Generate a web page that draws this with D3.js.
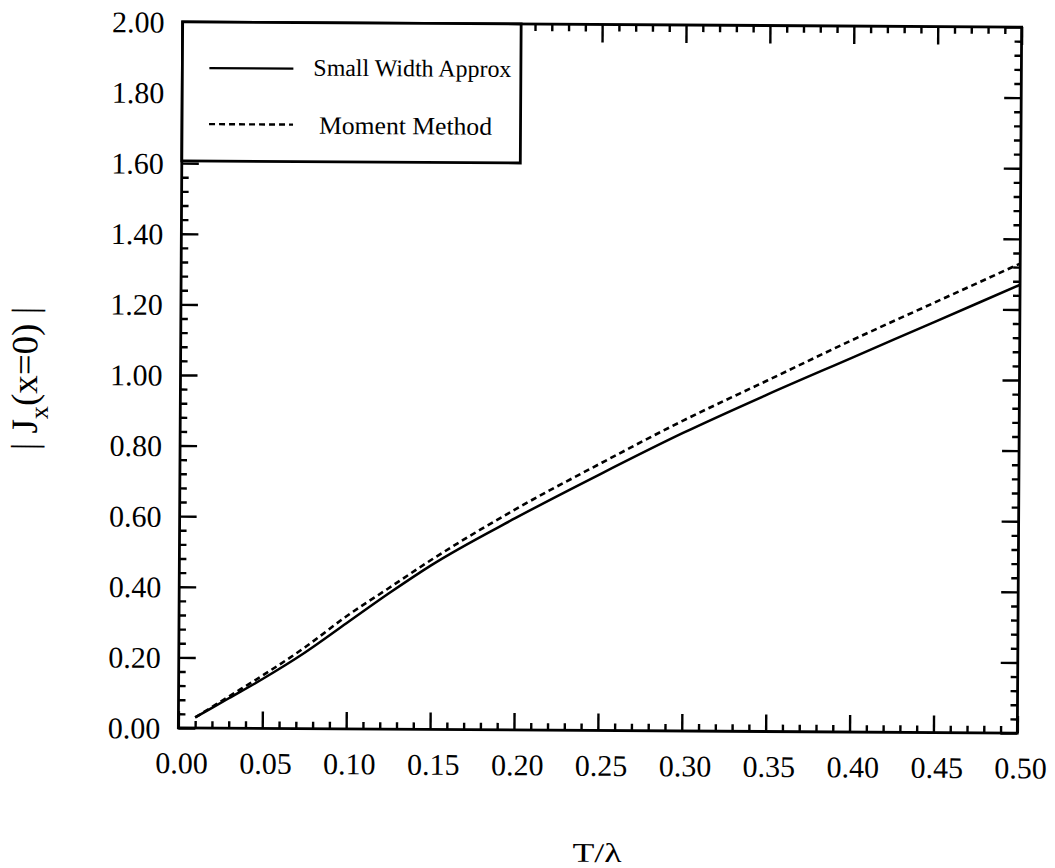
<!DOCTYPE html>
<html>
<head>
<meta charset="utf-8">
<script src="https://cdn.jsdelivr.net/npm/d3@7"></script>
<style>
  body { margin: 0; background: #fff; }
  svg { display: block; }
  text { font-family: "Liberation Serif", "DejaVu Serif", serif; fill: #000; }
</style>
</head>
<body>
<svg id="chart" width="1055" height="868"></svg>
<script>
// Strip width over wavelength
const ratio        = [0.01, 0.03, 0.05, 0.075, 0.10, 0.125, 0.15, 0.20, 0.25, 0.30, 0.35, 0.40, 0.45, 0.50];
// |Jx(x=0)| from the small-width approximation
const smallWidth   = [0.03, 0.085, 0.14, 0.215, 0.30, 0.385, 0.465, 0.60, 0.725, 0.845, 0.955, 1.06, 1.165, 1.27];
// |Jx(x=0)| from the moment method
const momentMethod = [0.03, 0.09, 0.15, 0.23, 0.32, 0.40, 0.48, 0.625, 0.755, 0.88, 0.995, 1.11, 1.22, 1.33];

const seriesNames  = ["Small Width Approx", "Moment Method"];

const xTicks      = [0, 0.05, 0.10, 0.15, 0.20, 0.25, 0.30, 0.35, 0.40, 0.45, 0.50];
const xTickLabels = ["0.00", "0.05", "0.10", "0.15", "0.20", "0.25", "0.30", "0.35", "0.40", "0.45", "0.50"];
const yTicks      = [0, 0.2, 0.4, 0.6, 0.8, 1.0, 1.2, 1.4, 1.6, 1.8, 2.0];
const yTickLabels = ["0.00", "0.20", "0.40", "0.60", "0.80", "1.00", "1.20", "1.40", "1.60", "1.80", "2.00"];

const xTitle = "T/\u03bb";

const frame = { left: 180.5, right: 1019.5, top: 24.5, bottom: 730.5 };

const x = d3.scaleLinear().domain([0, 0.5]).range([frame.left, frame.right]);
const y = d3.scaleLinear().domain([0, 2]).range([frame.bottom, frame.top]);

const xMinor = d3.range(0, 0.5001, 0.01).filter(v => !xTicks.some(t => Math.abs(t - v) < 1e-6));
const yMinor = d3.range(0, 2.0001, 0.04).filter(v => !yTicks.some(t => Math.abs(t - v) < 1e-6));

const svg = d3.select("#chart");
const g = svg.append("g").attr("transform", "rotate(0.35,600,377)");

const MAJOR = 17, MINOR = 7;

function styleAxis(sel) {
  sel.select(".domain").remove();
  sel.selectAll(".tick line").attr("stroke", "#000").attr("stroke-width", 2.4);
}

// bottom axis with labels, ticks pointing inward
g.append("g")
  .attr("transform", `translate(0,${frame.bottom})`)
  .call(d3.axisBottom(x).tickValues(xTicks).tickFormat((d, i) => xTickLabels[i])
        .tickSizeInner(-MAJOR).tickSizeOuter(0).tickPadding(24))
  .call(styleAxis)
  .call(s => s.selectAll("text").attr("font-size", 30).attr("dx", 3)
                .style("font-family", "'Liberation Serif', serif"));
g.append("g")
  .attr("transform", `translate(0,${frame.bottom})`)
  .call(d3.axisBottom(x).tickValues(xMinor).tickFormat("").tickSizeInner(-MINOR).tickSizeOuter(0))
  .call(styleAxis);

// top axis, ticks only
g.append("g")
  .attr("transform", `translate(0,${frame.top})`)
  .call(d3.axisTop(x).tickValues(xTicks).tickFormat("").tickSizeInner(-MAJOR - 1).tickSizeOuter(0))
  .call(styleAxis);
g.append("g")
  .attr("transform", `translate(0,${frame.top})`)
  .call(d3.axisTop(x).tickValues(xMinor).tickFormat("").tickSizeInner(-MINOR).tickSizeOuter(0))
  .call(styleAxis);

// left axis with labels
g.append("g")
  .attr("transform", `translate(${frame.left},0)`)
  .call(d3.axisLeft(y).tickValues(yTicks).tickFormat((d, i) => yTickLabels[i])
        .tickSizeInner(-MAJOR).tickSizeOuter(0).tickPadding(18))
  .call(styleAxis)
  .call(s => s.selectAll("text").attr("font-size", 30).attr("dy", "0.34em")
                .style("font-family", "'Liberation Serif', serif"));
g.append("g")
  .attr("transform", `translate(${frame.left},0)`)
  .call(d3.axisLeft(y).tickValues(yMinor).tickFormat("").tickSizeInner(-MINOR).tickSizeOuter(0))
  .call(styleAxis);

// right axis, ticks only
g.append("g")
  .attr("transform", `translate(${frame.right},0)`)
  .call(d3.axisRight(y).tickValues(yTicks).tickFormat("").tickSizeInner(-MAJOR).tickSizeOuter(0))
  .call(styleAxis);
g.append("g")
  .attr("transform", `translate(${frame.right},0)`)
  .call(d3.axisRight(y).tickValues(yMinor).tickFormat("").tickSizeInner(-MINOR).tickSizeOuter(0))
  .call(styleAxis);

// plot frame
g.append("rect")
  .attr("x", frame.left).attr("y", frame.top)
  .attr("width", frame.right - frame.left).attr("height", frame.bottom - frame.top)
  .attr("fill", "none").attr("stroke", "#000").attr("stroke-width", 2.8);

// curves
const line = d3.line().x(d => x(d[0])).y(d => y(d[1])).curve(d3.curveMonotoneX);

g.append("path")
  .datum(d3.zip(ratio, momentMethod))
  .attr("d", line)
  .attr("fill", "none").attr("stroke", "#000").attr("stroke-width", 2.6)
  .attr("stroke-dasharray", "6,4");

g.append("path")
  .datum(d3.zip(ratio, smallWidth))
  .attr("d", line)
  .attr("fill", "none").attr("stroke", "#000").attr("stroke-width", 2.5);

// legend
const legend = g.append("g").attr("transform", `translate(${frame.left},${frame.top})`);
legend.append("rect")
  .attr("width", 338.5).attr("height", 139)
  .attr("fill", "#fff").attr("stroke", "#000").attr("stroke-width", 2.8);

const legendRows = [
  { name: seriesNames[0], dash: null, lineY: 46, textX: 131, textY: 53, len: 198, size: 24 },
  { name: seriesNames[1], dash: "6,4", lineY: 102, textX: 137, textY: 111, len: 173, size: 25 }
];
legendRows.forEach(r => {
  legend.append("line")
    .attr("x1", 27).attr("x2", 111).attr("y1", r.lineY).attr("y2", r.lineY)
    .attr("stroke", "#000").attr("stroke-width", 2.4)
    .attr("stroke-dasharray", r.dash);
  legend.append("text")
    .attr("x", r.textX).attr("y", r.textY)
    .attr("font-size", r.size)
    .attr("textLength", r.len).attr("lengthAdjust", "spacingAndGlyphs")
    .text(r.name);
});

// axis titles
g.append("text")
  .attr("x", (frame.left + frame.right) / 2).attr("y", 862)
  .attr("text-anchor", "middle").attr("font-size", 27)
  .attr("textLength", 49).attr("lengthAdjust", "spacingAndGlyphs")
  .text(xTitle);

const yTitle = g.append("text")
  .attr("transform", "translate(37,382) rotate(-90)")
  .attr("text-anchor", "middle").attr("font-size", 37);
yTitle.append("tspan").text("| J");
yTitle.append("tspan").attr("dy", 11).attr("font-size", 26).text("x");
yTitle.append("tspan").attr("dy", -11).text("(x=0) |");
</script>
</body>
</html>
